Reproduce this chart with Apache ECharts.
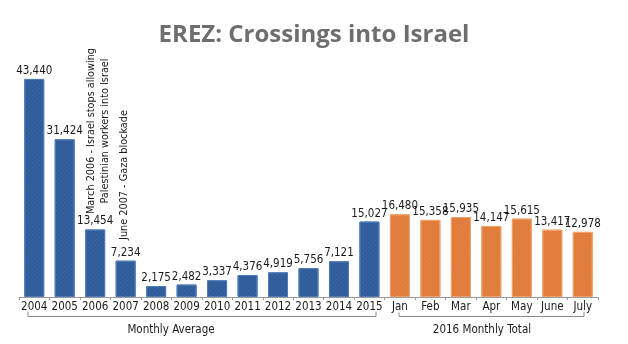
<!DOCTYPE html>
<html>
<head>
<meta charset="utf-8">
<script src="https://cdn.jsdelivr.net/npm/echarts@6/dist/echarts.min.js"></script>
<style>
  html, body { margin: 0; padding: 0; background: #ffffff; }
  #chart { width: 628px; height: 344px; }
</style>
</head>
<body>
<div id="chart"></div>
<script>
// Erez crossing: yearly monthly averages (2004-2015) and 2016 monthly totals
const yearCategories = ['2004', '2005', '2006', '2007', '2008', '2009', '2010', '2011', '2012', '2013', '2014', '2015'];
const yearValues = [43440, 31424, 13454, 7234, 2175, 2482, 3337, 4376, 4919, 5756, 7121, 15027];
const monthCategories = ['Jan', 'Feb', 'Mar', 'Apr', 'May', 'June', 'July'];
const monthValues = [16480, 15358, 15935, 14147, 15615, 13417, 12978];

const FONT = '"DejaVu Sans Condensed", "Liberation Sans", sans-serif';
const FONT_SIZE = 11.5;
const NOTE_SIZE = 10.8;
const BLUE = '#2e5c9a';
const ORANGE = '#e07b39';

const categories = yearCategories.concat(monthCategories);
const barData = yearValues.map(v => ({
  value: v,
  itemStyle: { color: BLUE, borderColor: '#4f7cb8' }
})).concat(monthValues.map(v => ({
  value: v,
  itemStyle: { color: ORANGE, borderColor: '#f0a06a' }
})));

const chart = echarts.init(document.getElementById('chart'), null, { renderer: 'canvas' });

const textStyle = { fill: '#1a1a1a', font: FONT_SIZE + 'px ' + FONT };
const noteStyle = { fill: '#1a1a1a', font: NOTE_SIZE + 'px ' + FONT };

chart.setOption({
  animation: false,
  backgroundColor: '#ffffff',
  title: {
    text: 'EREZ: Crossings into Israel',
    left: 'center',
    top: 18,
    textStyle: { fontFamily: '"Open Sans", Lato, sans-serif', fontWeight: 'bold', fontSize: 24, color: '#6d6e70' }
  },
  grid: { left: 19, right: 30, top: 46, bottom: 47, containLabel: false },
  xAxis: {
    type: 'category',
    data: categories,
    axisLine: { lineStyle: { color: '#9a9a9a', width: 1 } },
    axisTick: { show: true, length: 3, lineStyle: { color: '#9a9a9a' } },
    axisLabel: { interval: 0, margin: 4, color: '#1a1a1a', fontFamily: FONT, fontSize: FONT_SIZE }
  },
  yAxis: {
    type: 'value',
    min: 0,
    max: 50000,
    show: false,
    splitLine: { show: false }
  },
  series: [{
    type: 'bar',
    data: barData,
    barWidth: 20,
    itemStyle: {
      borderWidth: 1,
      decal: {
        symbol: 'rect',
        dashArrayX: [1, 0],
        dashArrayY: [1, 2],
        rotation: -Math.PI / 4,
        color: 'rgba(255,255,255,0.05)'
      }
    },
    label: {
      show: true,
      position: 'top',
      distance: 2,
      color: '#1a1a1a',
      fontFamily: FONT,
      fontSize: FONT_SIZE,
      formatter: p => p.value.toLocaleString('en-US')
    }
  }],
  graphic: [
    // event notes, rotated to read upward
    {
      type: 'text', x: 98, y: 131, rotation: Math.PI / 2,
      style: Object.assign({
        text: 'March 2006 - Israel stops allowing\nPalestinian workers into Israel',
        textAlign: 'center', textVerticalAlign: 'middle', lineHeight: 14
      }, noteStyle)
    },
    {
      type: 'text', x: 124, y: 175, rotation: Math.PI / 2,
      style: Object.assign({
        text: 'June 2007 - Gaza blockade',
        textAlign: 'center', textVerticalAlign: 'middle'
      }, noteStyle)
    },
    // group brackets under the axis
    {
      type: 'polyline',
      shape: { points: [[28, 311.5], [28, 316.5], [376, 316.5], [376, 311.5]] },
      style: { stroke: '#8a8a8a', lineWidth: 1, fill: null }
    },
    {
      type: 'polyline',
      shape: { points: [[399, 312.5], [399, 316.5], [584, 316.5], [584, 311.5]] },
      style: { stroke: '#8a8a8a', lineWidth: 1, fill: null }
    },
    {
      type: 'text', x: 171, y: 330,
      style: Object.assign({ text: 'Monthly Average', textAlign: 'center', textVerticalAlign: 'middle' }, textStyle)
    },
    {
      type: 'text', x: 482, y: 330,
      style: Object.assign({ text: '2016 Monthly Total', textAlign: 'center', textVerticalAlign: 'middle' }, textStyle)
    }
  ]
});
</script>
</body>
</html>
